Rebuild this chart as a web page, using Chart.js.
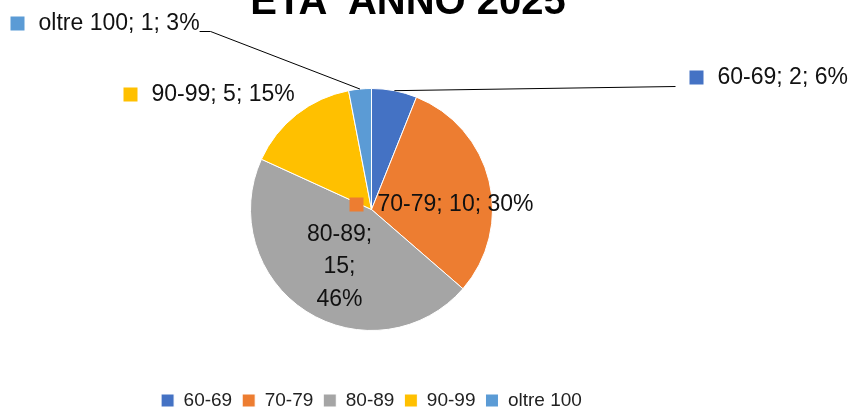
<!DOCTYPE html>
<html lang="it">
<head>
<meta charset="utf-8">
<title>ETA' ANNO 2025</title>
<script src="https://cdn.jsdelivr.net/npm/chart.js@4.4.1/dist/chart.umd.min.js"></script>
<style>
    html, body { margin: 0; padding: 0; background: #fff; }
    #wrap { position: relative; width: 854px; height: 410px; overflow: hidden; }
    canvas { display: block; }
</style>
</head>
<body>
<div id="wrap"><canvas id="chart" width="854" height="420"></canvas></div>
<script>
const chartTitle = "ETA' ANNO 2025";
const ageGroups = ["60-69", "70-79", "80-89", "90-99", "oltre 100"];
const people = [2, 10, 15, 5, 1];
const percents = [6, 30, 46, 15, 3];
const sliceColors = ["#4472C4", "#ED7D31", "#A5A5A5", "#FFC000", "#5B9BD5"];

// where each data label sits, in px from the pie centre (labels were dragged around in Excel)
const labelSpots = [
    { dx: 318, dy: -132, leader: "box" },
    { dx: -22, dy: -5 },
    { dx: -32, dy: 25, stacked: true },
    { dx: -248, dy: -115 },
    { dx: -361, dy: -186, leader: "text" },
];

const FONT = "'Liberation Sans', Arial, sans-serif";
const textColor = "#111";

// title is cut at the top edge like in the original picture
const titlePlugin = {
    id: "cutTitle",
    afterDraw(chart) {
        const ctx = chart.ctx;
        ctx.save();
        ctx.font = "bold 40px " + FONT;
        ctx.fillStyle = "#000";
        ctx.textAlign = "center";
        ctx.textBaseline = "alphabetic";
        ctx.fillText(chartTitle, 408, 14);
        ctx.restore();
    },
};

const dataLabels = {
    id: "dataLabels",
    afterDatasetsDraw(chart) {
        const ctx = chart.ctx;
        const arcs = chart.getDatasetMeta(0).data;
        ctx.save();
        ctx.font = "23px " + FONT;
        ctx.textBaseline = "middle";
        arcs.forEach((el, i) => {
            const arc = el.getProps(["x", "y", "startAngle", "endAngle", "outerRadius"], true);
            const spot = labelSpots[i];
            const x = arc.x + spot.dx;
            const y = arc.y + spot.dy;
            const parts = [ageGroups[i], people[i], percents[i] + "%"];

            if (spot.stacked) {
                ctx.fillStyle = textColor;
                ctx.textAlign = "center";
                ctx.fillText(parts[0] + ";", x, y);
                ctx.fillText(parts[1] + ";", x, y + 32);
                ctx.fillText(parts[2], x, y + 65);
                return;
            }

            const text = parts.join("; ");
            ctx.fillStyle = sliceColors[i];
            ctx.fillRect(x, y - 7, 14, 14);
            ctx.fillStyle = textColor;
            ctx.textAlign = "left";
            ctx.fillText(text, x + 28, y);

            if (!spot.leader) return;
            const mid = (arc.startAngle + arc.endAngle) / 2;
            const ex = arc.x + Math.cos(mid) * arc.outerRadius;
            const ey = arc.y + Math.sin(mid) * arc.outerRadius;
            ctx.strokeStyle = "#000";
            ctx.lineWidth = 1;
            ctx.beginPath();
            if (spot.leader === "box") {
                ctx.moveTo(ex, ey);
                ctx.lineTo(x - 14, y + 9);
            } else {
                const tx = x + 28 + ctx.measureText(text).width;
                ctx.moveTo(tx, y + 8);
                ctx.lineTo(tx + 11, y + 8);
                ctx.lineTo(ex, ey);
            }
            ctx.stroke();
        });
        ctx.restore();
    },
};

new Chart(document.getElementById("chart"), {
    type: "pie",
    data: {
        labels: ageGroups,
        datasets: [
            {
                data: people,
                backgroundColor: sliceColors,
                borderColor: "#fff",
                borderWidth: 1,
                radius: 121,
            },
        ],
    },
    options: {
        responsive: false,
        animation: false,
        layout: {
            padding: { top: 38, left: 0, right: 111, bottom: 0 },
        },
        plugins: {
            title: { display: false },
            tooltip: { enabled: false },
            legend: {
                position: "bottom",
                labels: {
                    font: { family: FONT, size: 19 },
                    color: "#222",
                    boxWidth: 13,
                    boxHeight: 13,
                    padding: 10,
                },
            },
        },
    },
    plugins: [dataLabels, titlePlugin],
});
</script>
</body>
</html>
